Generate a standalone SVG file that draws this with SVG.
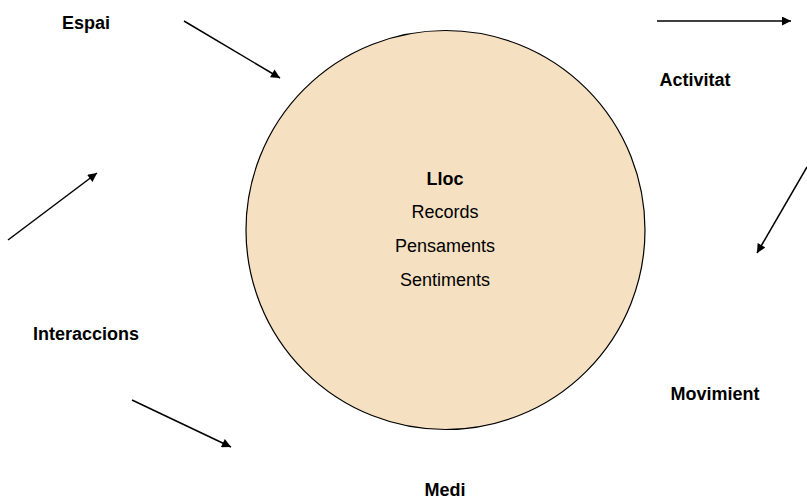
<svg xmlns="http://www.w3.org/2000/svg" width="807" height="497" viewBox="0 0 807 497">
  <style>
    .lbl { font-family: "Liberation Sans", Arial, sans-serif; font-size: 18px; font-weight: bold; fill: #000; text-anchor: middle; }
    .inner { font-family: "Liberation Sans", Arial, sans-serif; font-size: 18px; fill: #000; text-anchor: middle; }
    .conn { stroke: #000; stroke-width: 1.5; fill: none; marker-end: url(#head); }
  </style>
  <defs>
    <marker id="head" viewBox="0 0 10 10" refX="10" refY="5" markerWidth="10" markerHeight="9" markerUnits="userSpaceOnUse" orient="auto">
      <path d="M0,0 L10,5 L0,10 z" fill="#000"/>
    </marker>
  </defs>
  <rect width="807" height="497" fill="#fff"/>

  <g id="lloc">
    <circle cx="445.5" cy="230" r="199.5" fill="#F5E1C1" stroke="#000" stroke-width="1.2"/>
    <text class="lbl" x="445" y="185">Lloc</text>
    <text class="inner" x="445" y="218">Records</text>
    <text class="inner" x="445" y="252">Pensaments</text>
    <text class="inner" x="445" y="286">Sentiments</text>
  </g>

  <g id="espai"><text class="lbl" x="86" y="29">Espai</text></g>
  <g id="activitat"><text class="lbl" x="695" y="86">Activitat</text></g>
  <g id="interaccions"><text class="lbl" x="86" y="340">Interaccions</text></g>
  <g id="moviment"><text class="lbl" x="715" y="400">Movimient</text></g>
  <g id="medi"><text class="lbl" x="445" y="496">Medi</text></g>

  <g id="connectors">
    <line class="conn" x1="184" y1="21" x2="280" y2="78"/>
    <line class="conn" x1="657" y1="21" x2="791" y2="21"/>
    <line class="conn" x1="807" y1="167" x2="757" y2="253"/>
    <line class="conn" x1="8" y1="240" x2="97" y2="173"/>
    <line class="conn" x1="132" y1="400" x2="231" y2="447"/>
  </g>
</svg>
